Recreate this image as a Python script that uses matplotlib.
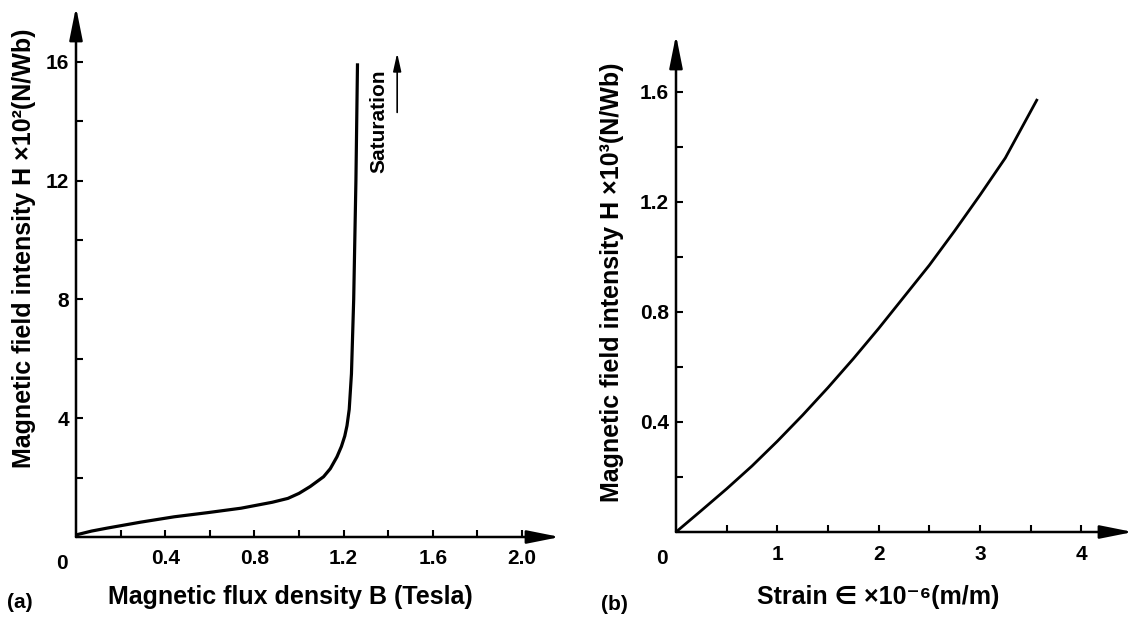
import numpy as np
import matplotlib
matplotlib.use('Agg')
import matplotlib.pyplot as plt

plt.rcParams['font.family'] = ['Liberation Sans', 'DejaVu Sans']
plt.rcParams['font.weight'] = 'bold'

# (a) B-H curve, H in units of 10^2 N/Wb
flux_B = [0, 0.07, 0.14, 0.29, 0.44, 0.59, 0.74, 0.88, 0.95, 1.0, 1.05, 1.11, 1.14, 1.17,
          1.19, 1.205, 1.215, 1.225, 1.235, 1.245, 1.255, 1.262]
field_Ha = [0.07, 0.2, 0.3, 0.5, 0.68, 0.82, 0.97, 1.17, 1.3, 1.47, 1.7, 2.03, 2.3, 2.7,
            3.05, 3.4, 3.75, 4.3, 5.5, 8, 12, 15.9]

# (b) strain vs H, H in units of 10^3 N/Wb
strain = [0, 0.25, 0.5, 0.75, 1.0, 1.25, 1.5, 1.75, 2.0, 2.25, 2.5, 2.75, 3.0, 3.25, 3.56]
field_Hb = [0, 0.078, 0.157, 0.24, 0.33, 0.425, 0.525, 0.63, 0.74, 0.855, 0.97, 1.095, 1.225, 1.36, 1.57]

a_xticks = [0.2, 0.4, 0.6, 0.8, 1.0, 1.2, 1.4, 1.6, 1.8, 2.0]
a_xlabels = ['', '0.4', '', '0.8', '', '1.2', '', '1.6', '', '2.0']
a_yticks = [2, 4, 6, 8, 10, 12, 14, 16]
a_ylabels = ['', '4', '', '8', '', '12', '', '16']

b_xticks = [0.5, 1, 1.5, 2, 2.5, 3, 3.5, 4]
b_xlabels = ['', '1', '', '2', '', '3', '', '4']
b_yticks = [0.2, 0.4, 0.6, 0.8, 1.0, 1.2, 1.4, 1.6]
b_ylabels = ['', '0.4', '', '0.8', '', '1.2', '', '1.6']

W, H = 1135, 619
fig = plt.figure(figsize=(W / 100, H / 100), dpi=100)


def px_axes(x0, y0, x1, y1):
    # pixel box (left, bottom, right, top) -> figure fraction
    return fig.add_axes([x0 / W, 1 - y0 / H, (x1 - x0) / W, (y0 - y1) / H])


def style_axes(ax):
    for s in ax.spines.values():
        s.set_visible(False)
    arrow = dict(arrowstyle='-|>,head_length=1.0,head_width=0.2', lw=1.8,
                 color='black', shrinkA=0, shrinkB=0, mutation_scale=20)
    ax.annotate('', xy=(1, 0), xytext=(0, 0), xycoords='axes fraction',
                arrowprops=arrow, annotation_clip=False)
    ax.annotate('', xy=(0, 1), xytext=(0, 0), xycoords='axes fraction',
                arrowprops=arrow, annotation_clip=False)
    ax.tick_params(direction='in', length=5, width=1.5, labelsize=15)
    ax.tick_params(axis='x', pad=9)
    ax.tick_params(axis='y', pad=5)
    for lab in ax.get_xticklabels() + ax.get_yticklabels():
        lab.set_fontweight('bold')
    ax.annotate('0', xy=(0, 0), xytext=(-10, -19), textcoords='offset points',
                ha='center', va='center', fontsize=15, fontweight='bold')


# panel (a)
ax1 = px_axes(76, 537, 560, 7)
ax1.plot(flux_B, field_Ha, color='black', lw=2.3, solid_joinstyle='round')
ax1.set_xlim(0, 2.17)
ax1.set_ylim(0, 17.85)
ax1.set_xticks(a_xticks)
ax1.set_xticklabels(a_xlabels)
ax1.set_yticks(a_yticks)
ax1.set_yticklabels(a_ylabels)
style_axes(ax1)
ax1.text(1.36, 14.0, 'Saturation', rotation=90, ha='center', va='center',
         fontsize=15, fontweight='bold')
ax1.annotate('', xy=(1.44, 16.3), xytext=(1.44, 14.3),
             arrowprops=dict(arrowstyle='-|>,head_length=0.9,head_width=0.2', lw=1.2,
                             color='black', shrinkA=0, shrinkB=0, mutation_scale=12))

# panel (b)
ax2 = px_axes(676, 532, 1133, 35)
ax2.plot(strain, field_Hb, color='black', lw=2.0, solid_joinstyle='round')
ax2.set_xlim(0, 4.51)
ax2.set_ylim(0, 1.807)
ax2.set_xticks(b_xticks)
ax2.set_xticklabels(b_xlabels)
ax2.set_yticks(b_yticks)
ax2.set_yticklabels(b_ylabels)
style_axes(ax2)

# axis titles and panel letters
lab = dict(fontsize=18, fontweight='bold', ha='center', va='center')
fig.text(24 / W, 1 - 248 / H, 'Magnetic field intensity H \u00d710\u00b2(N/Wb)', rotation=90, **lab)
fig.text(290 / W, 1 - 597 / H, 'Magnetic flux density B (Tesla)', **lab)
fig.text(612 / W, 1 - 282 / H, 'Magnetic field intensity H \u00d710\u00b3(N/Wb)', rotation=90, **lab)
fig.text(878 / W, 1 - 597 / H, 'Strain \u2208 \u00d710\u207b\u2076(m/m)', **lab)
fig.text(20 / W, 1 - 603 / H, '(a)', fontsize=15, fontweight='bold', ha='center', va='center')
fig.text(614 / W, 1 - 604 / H, '(b)', fontsize=15, fontweight='bold', ha='center', va='center')

fig.savefig('out.png', dpi=100)
